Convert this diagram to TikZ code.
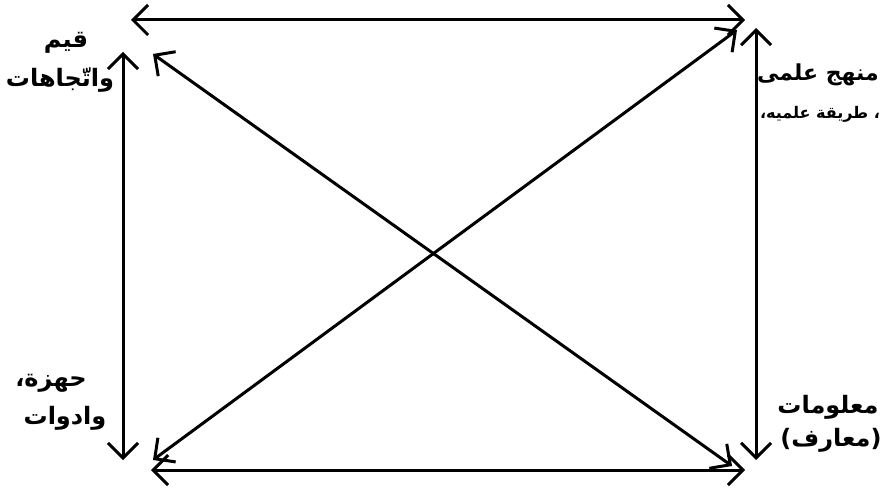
\documentclass[tikz,border=0pt]{standalone}
\usepackage{fontspec}
\newfontfamily\arabicfont[Script=Arabic]{DejaVu Sans}
\TeXXeTstate=1
\usetikzlibrary{arrows.meta}
\begin{document}
\begin{tikzpicture}[x=1pt,y=-1pt,
  link/.style={line width=3pt,{Straight Barb[length=15pt,width=30pt,line width=3pt]}-{Straight Barb[length=15pt,width=30pt,line width=3pt]}},
  lab/.style={font=\arabicfont\bfseries\fontsize{24}{28}\selectfont,inner sep=0pt,align=center},
  sublab/.style={font=\arabicfont\bfseries\fontsize{16}{19}\selectfont,inner sep=0pt}]
\useasboundingbox (0,0) rectangle (893,497);
% endpoints
\coordinate (t1) at (131,20);
\coordinate (t2) at (745,20);
\coordinate (b1) at (151,470);
\coordinate (b2) at (745,470);
\coordinate (l1) at (123,52);
\coordinate (l2) at (123,460);
\coordinate (r1) at (756,28);
\coordinate (r2) at (756,460);
\coordinate (d1a) at (153,54);
\coordinate (d1b) at (732,466);
\coordinate (d2a) at (153,460);
\coordinate (d2b) at (737,30);
\draw[link] (t1) -- (t2);
\draw[link] (b1) -- (b2);
\draw[link] (l1) -- (l2);
\draw[link] (r1) -- (r2);
\draw[link] (d1a) -- (d1b);
\draw[link] (d2a) -- (d2b);
% labels
\node[lab] (q1) at (66,43) {\beginR قيم\endR};
\node[lab] (q2) at (60,80) {\beginR واتّجاهات\endR};
\node[lab,font=\arabicfont\bfseries\fontsize{22}{26}\selectfont] (m1) at (818,75) {\beginR منهج علمى\endR};
\node[sublab] (m2) at (820,114) {\beginR ، طريقة علميه،\endR};
\node[lab] (j1) at (51,383) {\beginR حهزة،\endR};
\node[lab] (j2) at (65,418) {\beginR وادوات\endR};
\node[lab] (e1) at (828,407) {\beginR معلومات\endR};
\node[lab] (e2) at (831,440) {\beginR (معارف)\endR};
\end{tikzpicture}
\end{document}
